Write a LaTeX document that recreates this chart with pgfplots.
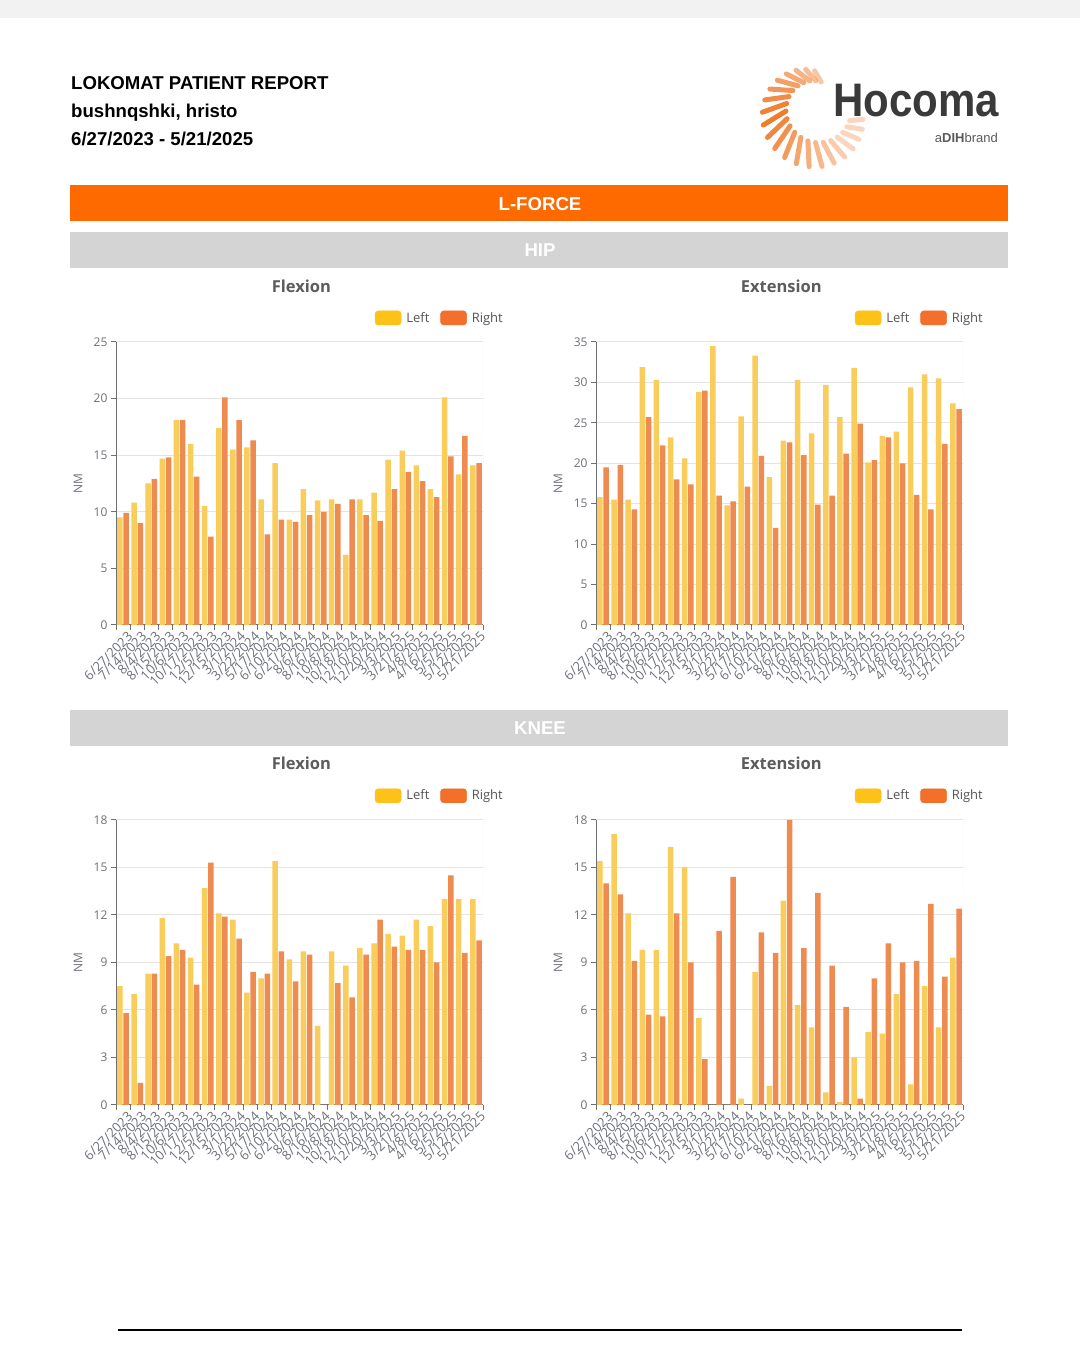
\documentclass[border=0pt]{standalone}
\usepackage{fontspec}
\setmainfont{Open Sans}
\newfontfamily\hdr{Liberation Sans}
\usepackage{pgfplots}
\pgfplotsset{compat=1.18}
\usepackage{pgfplotstable}
\usetikzlibrary{calc}

\definecolor{bannerorange}{HTML}{FF6A00}
\definecolor{bandgray}{HTML}{D4D4D4}
\definecolor{axisgray}{HTML}{6E7079}
\definecolor{gridgray}{HTML}{E3E3E3}
\definecolor{titlegray}{HTML}{5C5C5C}
\definecolor{legtext}{HTML}{555555}
\definecolor{leftbar}{HTML}{F9CD5B}
\definecolor{rightbar}{HTML}{EE8B50}
\definecolor{leftleg}{HTML}{FDC117}
\definecolor{rightleg}{HTML}{F2702C}
\definecolor{logoorange}{HTML}{F07A2A}
\definecolor{logogray}{HTML}{3A3A3A}

\pgfplotstableread{
x L R
0 9.5 9.9
1 10.8 9.0
2 12.5 12.9
3 14.7 14.8
4 18.1 18.1
5 16.0 13.1
6 10.5 7.8
7 17.4 20.1
8 15.5 18.1
9 15.7 16.3
10 11.1 8.0
11 14.3 9.3
12 9.3 9.1
13 12.0 9.7
14 11.0 10.0
15 11.1 10.7
16 6.2 11.1
17 11.1 9.7
18 11.7 9.2
19 14.6 12.0
20 15.4 13.5
21 14.1 12.7
22 12.0 11.3
23 20.1 14.9
24 13.3 16.7
25 14.1 14.3
}\hipflex

\pgfplotstableread{
x L R
0 15.8 19.5
1 15.5 19.8
2 15.5 14.3
3 31.9 25.7
4 30.3 22.2
5 23.2 18.0
6 20.6 17.4
7 28.8 29.0
8 34.5 16.0
9 14.8 15.3
10 25.8 17.1
11 33.3 20.9
12 18.3 12.0
13 22.8 22.6
14 30.3 21.0
15 23.7 14.9
16 29.7 16.0
17 25.7 21.2
18 31.8 24.9
19 20.1 20.4
20 23.4 23.2
21 23.9 20.0
22 29.4 16.1
23 31.0 14.3
24 30.5 22.4
25 27.4 26.7
}\hipext

\pgfplotstableread{
x L R
0 7.5 5.8
1 7.0 1.4
2 8.3 8.3
3 11.8 9.4
4 10.2 9.8
5 9.3 7.6
6 13.7 15.3
7 12.1 11.9
8 11.7 10.5
9 7.1 8.4
10 8.0 8.3
11 15.4 9.7
12 9.2 7.8
13 9.7 9.5
14 5.0 0
15 9.7 7.7
16 8.8 6.8
17 9.9 9.5
18 10.2 11.7
19 10.8 10.0
20 10.7 9.8
21 11.7 9.8
22 11.3 9.0
23 13.0 14.5
24 13.0 9.6
25 13.0 10.4
}\kneeflex

\pgfplotstableread{
x L R
0 15.4 14.0
1 17.1 13.3
2 12.1 9.1
3 9.8 5.7
4 9.8 5.6
5 16.3 12.1
6 15.0 9.0
7 5.5 2.9
8 0 11.0
9 0 14.4
10 0.4 0
11 8.4 10.9
12 1.2 9.6
13 12.9 18.0
14 6.3 9.9
15 4.9 13.4
16 0.8 8.8
17 0.2 6.2
18 3.0 0.4
19 4.6 8.0
20 4.5 10.2
21 7.0 9.0
22 1.3 9.1
23 7.5 12.7
24 4.9 8.1
25 9.3 12.4
}\kneeext

\pgfplotsset{
  lf/.style={
    scale only axis, width=367pt,
    anchor=south west,
    xmin=-0.5, xmax=25.5, ymin=0,
    axis x line*=bottom, axis y line*=left,
    axis line style={draw=axisgray, line width=1pt},
    xtick={0,...,25},
    xticklabels={6/27/2023,7/14/2023,8/4/2023,8/15/2023,10/6/2023,10/17/2023,12/5/2023,12/15/2023,3/1/2024,3/22/2024,5/17/2024,6/10/2024,6/21/2024,8/6/2024,8/16/2024,10/8/2024,10/18/2024,12/10/2024,12/20/2024,3/3/2025,3/21/2025,4/8/2025,4/16/2025,5/5/2025,5/12/2025,5/21/2025},
    xtick style={draw=none},
    minor xtick={-0.5,0.5,...,25.5},
    minor x tick style={draw=axisgray, line width=1pt},
    minor tick length=5pt, major tick length=5pt,
    tick align=outside,
    ytick style={draw=axisgray, line width=1pt},
    ymajorgrids, grid style={draw=gridgray, line width=1pt},
    tick label style={font=\fontsize{12}{12}\selectfont, text=axisgray},
    xticklabel style={rotate=45, anchor=north east, inner sep=1pt, xshift=3pt, yshift=-2pt, font=\fontsize{13}{13}\selectfont},
    /pgf/number format/assume math mode=true,
    ylabel=NM,
    ylabel style={at={(axis description cs:-0.1035,0.5)}, anchor=center, font=\fontsize{12}{12}\selectfont, text=axisgray},
    title style={at={(axis description cs:0.505,1.177)}, anchor=center, font=\fontsize{16.5}{18}\selectfont\bfseries, text=titlegray},
    legend style={at={(axis description cs:1.0545,1.085)}, anchor=east, draw=none, fill=none,
      font=\fontsize{13}{14}\selectfont, text=legtext, inner sep=0pt,
      nodes={inner sep=0pt},
      /tikz/every odd column/.append style={column sep=5pt},
      /tikz/every even column/.append style={column sep=11pt}},
    legend columns=2,
    legend cell align=left,
  },
  lbar/.style={ybar, bar width=5.5pt, bar shift=-3.1pt, fill=leftbar, draw=none, forget plot},
  rbar/.style={ybar, bar width=5.5pt, bar shift=3.1pt, fill=rightbar, draw=none, forget plot},
}

\newcommand{\legs}{%
  \addlegendimage{legend image code/.code={\fill[leftleg, rounded corners=3pt] (0pt,-7pt) rectangle (26pt,7pt);}}
  \addlegendentry{Left}
  \addlegendimage{legend image code/.code={\fill[rightleg, rounded corners=3pt] (0pt,-7pt) rectangle (26pt,7pt);}}
  \addlegendentry{Right}
  \draw[gridgray, line width=1pt] (rel axis cs:1,0) -- (rel axis cs:1,1);
}

\begin{document}
\begin{tikzpicture}[x=1pt,y=1pt]
\fill[white] (0,0) rectangle (1080,1346);
\useasboundingbox (0,0) rectangle (1080,1346);
\fill[black!5] (0,1328) rectangle (1080,1346);

% header
\node[anchor=base west, inner sep=0pt, font=\hdr\bfseries\fontsize{18.6}{20}\selectfont] at (71,1256.7) {LOKOMAT PATIENT REPORT};
\node[anchor=base west, inner sep=0pt, font=\hdr\bfseries\fontsize{18.6}{20}\selectfont] at (71,1228.7) {bushnqshki, hristo};
\node[anchor=base west, inner sep=0pt, font=\hdr\bfseries\fontsize{18.6}{20}\selectfont] at (71,1200.7) {6/27/2023 - 5/21/2025};

% logo
\foreach \a in {92,104,...,332} {
  \pgfmathsetmacro{\rr}{30+17*sin((\a-92)*0.75)+(\a-92)*0.03}
  \pgfmathsetmacro{\op}{max(0.3,1-abs(\a-185)/160)}
  \pgfmathsetmacro{\hl}{6+7*sin((\a-92)*0.75)}
  \draw[logoorange, opacity=\op, line width=5pt, line cap=round]
    ($(822,1240)+(\a:\rr-\hl)$) -- ($(822,1240)+(\a+10:\rr+\hl)$);
}
\node[anchor=base west, inner sep=0pt, text=logogray, font=\hdr\bfseries\fontsize{42}{44}\selectfont, yscale=1.12, transform shape] at (833,1229) {Hocoma};
\node[anchor=base east, inner sep=0pt, text=black!65, font=\hdr\fontsize{13}{14}\selectfont] at (998,1203) {a\textbf{DIH}brand};

% banners
\fill[bannerorange] (70,1125) rectangle (1008,1161);
\node[text=white, font=\hdr\bfseries\fontsize{18.6}{20}\selectfont] at (540,1142) {L-FORCE};
\fill[bandgray] (70,1078) rectangle (1008,1114);
\node[text=white, font=\hdr\bfseries\fontsize{18.6}{20}\selectfont] at (540,1096) {HIP};
\fill[bandgray] (70,600) rectangle (1008,636);
\node[text=white, font=\hdr\bfseries\fontsize{18.6}{20}\selectfont] at (540,618) {KNEE};

% HIP flexion
\begin{axis}[lf, at={(116pt,721pt)}, height=283pt, ymax=25, ytick={0,5,...,25}, title=Flexion]
\addplot[lbar] table[x=x,y=L] {\hipflex};
\addplot[rbar] table[x=x,y=R] {\hipflex};
\legs
\end{axis}

% HIP extension
\begin{axis}[lf, at={(596pt,721pt)}, height=283pt, ymax=35, ytick={0,5,...,35}, title=Extension]
\addplot[lbar] table[x=x,y=L] {\hipext};
\addplot[rbar] table[x=x,y=R] {\hipext};
\legs
\end{axis}

% KNEE flexion
\begin{axis}[lf, at={(116pt,241pt)}, height=285pt, ymax=18, ytick={0,3,...,18}, title=Flexion]
\addplot[lbar] table[x=x,y=L] {\kneeflex};
\addplot[rbar] table[x=x,y=R] {\kneeflex};
\legs
\end{axis}

% KNEE extension
\begin{axis}[lf, at={(596pt,241pt)}, height=285pt, ymax=18, ytick={0,3,...,18}, title=Extension]
\addplot[lbar] table[x=x,y=L] {\kneeext};
\addplot[rbar] table[x=x,y=R] {\kneeext};
\legs
\end{axis}

\draw[black, line width=1.5pt] (118,16) -- (962,16);
\end{tikzpicture}
\end{document}
